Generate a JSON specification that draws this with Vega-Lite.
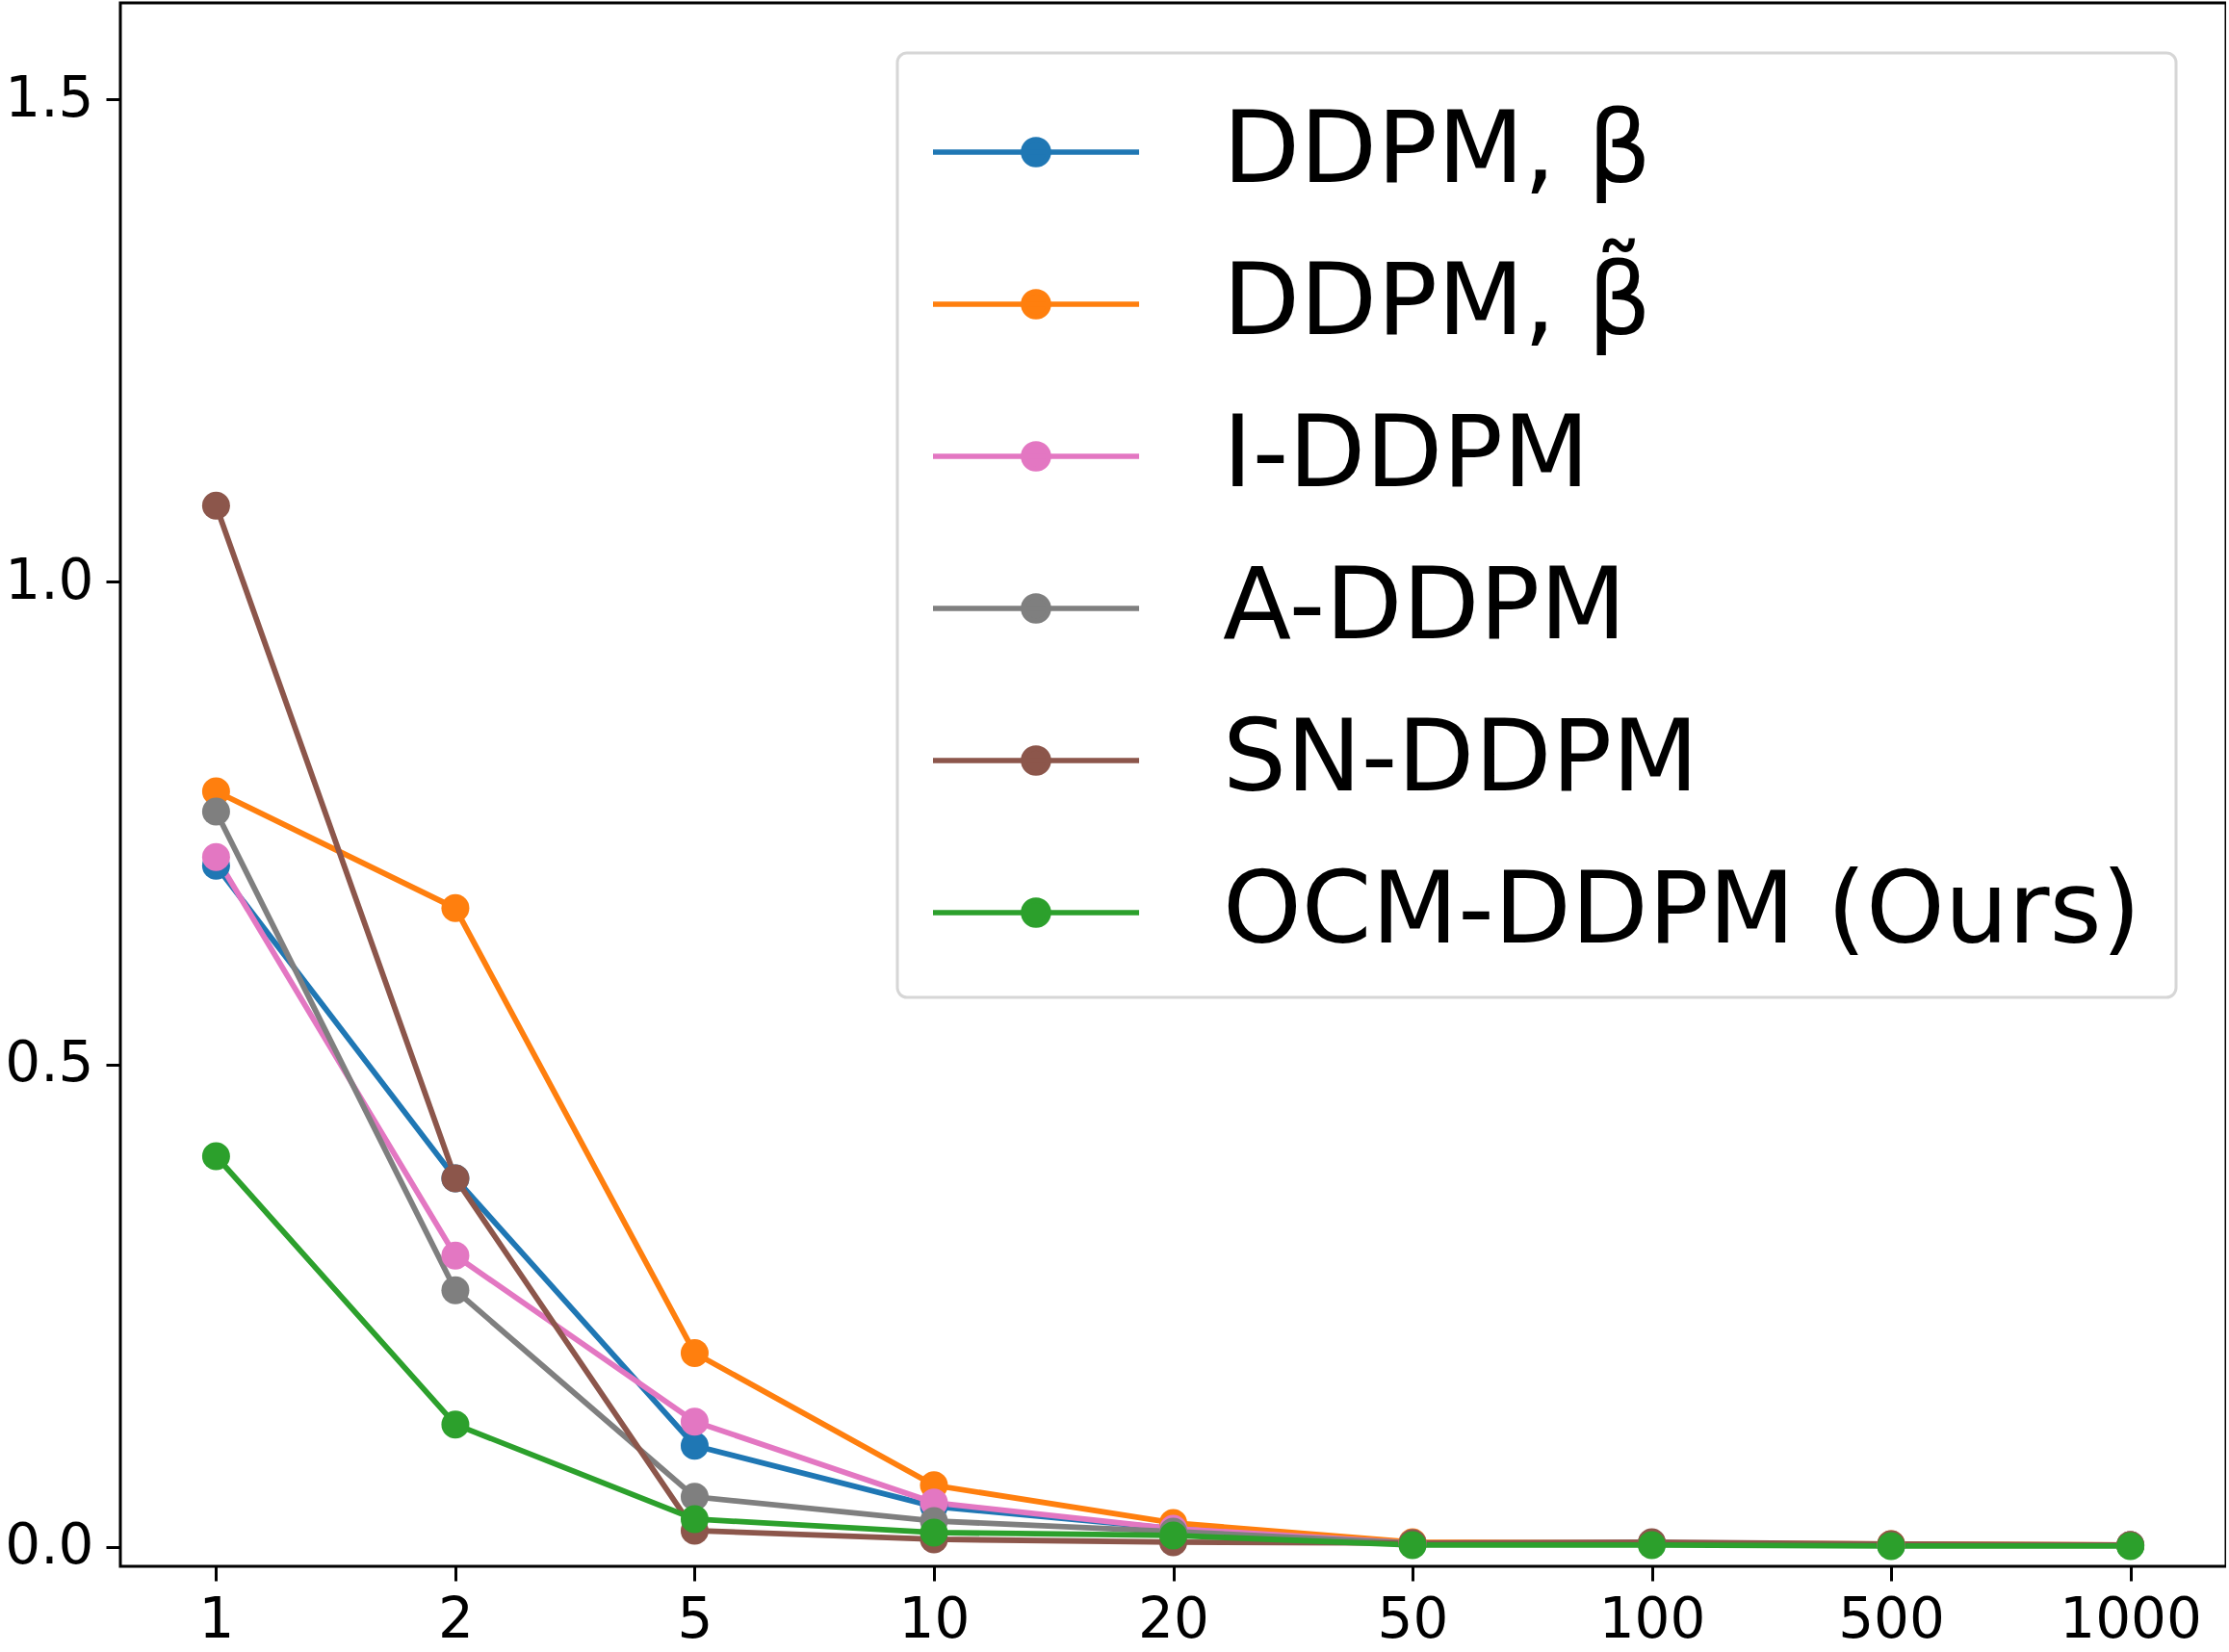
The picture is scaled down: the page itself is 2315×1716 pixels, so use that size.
{
  "$schema": "https://vega.github.io/schema/vega-lite/v6.json",
  "width": 2187,
  "height": 1624,
  "autosize": {"type": "none"},
  "padding": {"left": 125, "top": 3, "right": 0, "bottom": 89},
  "background": "white",
  "config": {
    "view": {"stroke": "black", "strokeWidth": 3},
    "axis": {
      "domain": false,
      "grid": false,
      "ticks": true,
      "tickColor": "black",
      "tickWidth": 3,
      "tickSize": 15,
      "labelFont": "DejaVu Sans",
      "labelFontSize": 58,
      "labelColor": "black",
      "title": null
    },
    "legend": {
      "orient": "top-right",
      "offset": 52,
      "padding": 36,
      "cornerRadius": 10,
      "strokeColor": "#d6d6d6",
      "strokeWidth": 3,
      "fillColor": "white",
      "labelFont": "DejaVu Sans",
      "labelFontSize": 104,
      "labelColor": "black",
      "labelLimit": 3000,
      "labelOffset": 198,
      "rowPadding": 54,
      "symbolType": "M-3.4,0L10.87,0M4.6,0A0.87,0.87,0,1,1,2.86,0A0.87,0.87,0,1,1,4.6,0Z",
      "symbolSize": 900,
      "symbolStrokeWidth": 5.5,
      "titleFontSize": 10,
      "titlePadding": 5
    }
  },
  "data": {
    "values": [
      {"method": "DDPM, β", "steps": "1", "v": 0.706},
      {"method": "DDPM, β", "steps": "2", "v": 0.382},
      {"method": "DDPM, β", "steps": "5", "v": 0.105},
      {"method": "DDPM, β", "steps": "10", "v": 0.042},
      {"method": "DDPM, β", "steps": "20", "v": 0.019},
      {"method": "DDPM, β", "steps": "50", "v": 0.004},
      {"method": "DDPM, β", "steps": "100", "v": 0.004},
      {"method": "DDPM, β", "steps": "500", "v": 0.002},
      {"method": "DDPM, β", "steps": "1000", "v": 0.002},
      {"method": "DDPM, β̃", "steps": "1", "v": 0.783},
      {"method": "DDPM, β̃", "steps": "2", "v": 0.662},
      {"method": "DDPM, β̃", "steps": "5", "v": 0.201},
      {"method": "DDPM, β̃", "steps": "10", "v": 0.064},
      {"method": "DDPM, β̃", "steps": "20", "v": 0.025},
      {"method": "DDPM, β̃", "steps": "50", "v": 0.005},
      {"method": "DDPM, β̃", "steps": "100", "v": 0.004},
      {"method": "DDPM, β̃", "steps": "500", "v": 0.003},
      {"method": "DDPM, β̃", "steps": "1000", "v": 0.002},
      {"method": "I-DDPM", "steps": "1", "v": 0.715},
      {"method": "I-DDPM", "steps": "2", "v": 0.302},
      {"method": "I-DDPM", "steps": "5", "v": 0.130},
      {"method": "I-DDPM", "steps": "10", "v": 0.046},
      {"method": "I-DDPM", "steps": "20", "v": 0.019},
      {"method": "I-DDPM", "steps": "50", "v": 0.004},
      {"method": "I-DDPM", "steps": "100", "v": 0.004},
      {"method": "I-DDPM", "steps": "500", "v": 0.002},
      {"method": "I-DDPM", "steps": "1000", "v": 0.002},
      {"method": "A-DDPM", "steps": "1", "v": 0.762},
      {"method": "A-DDPM", "steps": "2", "v": 0.266},
      {"method": "A-DDPM", "steps": "5", "v": 0.052},
      {"method": "A-DDPM", "steps": "10", "v": 0.027},
      {"method": "A-DDPM", "steps": "20", "v": 0.016},
      {"method": "A-DDPM", "steps": "50", "v": 0.004},
      {"method": "A-DDPM", "steps": "100", "v": 0.004},
      {"method": "A-DDPM", "steps": "500", "v": 0.002},
      {"method": "A-DDPM", "steps": "1000", "v": 0.002},
      {"method": "SN-DDPM", "steps": "1", "v": 1.079},
      {"method": "SN-DDPM", "steps": "2", "v": 0.382},
      {"method": "SN-DDPM", "steps": "5", "v": 0.017},
      {"method": "SN-DDPM", "steps": "10", "v": 0.008},
      {"method": "SN-DDPM", "steps": "20", "v": 0.005},
      {"method": "SN-DDPM", "steps": "50", "v": 0.004},
      {"method": "SN-DDPM", "steps": "100", "v": 0.005},
      {"method": "SN-DDPM", "steps": "500", "v": 0.003},
      {"method": "SN-DDPM", "steps": "1000", "v": 0.002},
      {"method": "OCM-DDPM (Ours)", "steps": "1", "v": 0.405},
      {"method": "OCM-DDPM (Ours)", "steps": "2", "v": 0.127},
      {"method": "OCM-DDPM (Ours)", "steps": "5", "v": 0.029},
      {"method": "OCM-DDPM (Ours)", "steps": "10", "v": 0.015},
      {"method": "OCM-DDPM (Ours)", "steps": "20", "v": 0.012},
      {"method": "OCM-DDPM (Ours)", "steps": "50", "v": 0.002},
      {"method": "OCM-DDPM (Ours)", "steps": "100", "v": 0.002},
      {"method": "OCM-DDPM (Ours)", "steps": "500", "v": 0.001},
      {"method": "OCM-DDPM (Ours)", "steps": "1000", "v": 0.001}
    ]
  },
  "encoding": {
    "x": {
      "field": "steps",
      "type": "ordinal",
      "sort": ["1", "2", "5", "10", "20", "50", "100", "500", "1000"],
      "scale": {"type": "point", "padding": 0.4},
      "axis": {"labelAngle": 0, "labelPadding": 12}
    },
    "y": {
      "field": "v",
      "type": "quantitative",
      "scale": {"domain": [-0.02, 1.6], "nice": false, "zero": false},
      "axis": {"values": [0, 0.5, 1, 1.5], "format": ".1f", "labelPadding": 13}
    },
    "color": {
      "field": "method",
      "type": "nominal",
      "sort": ["DDPM, β", "DDPM, β̃", "I-DDPM", "A-DDPM", "SN-DDPM", "OCM-DDPM (Ours)"],
      "scale": {
        "domain": ["DDPM, β", "DDPM, β̃", "I-DDPM", "A-DDPM", "SN-DDPM", "OCM-DDPM (Ours)"],
        "range": ["#1f77b4", "#ff7f0e", "#e377c2", "#7f7f7f", "#8c564b", "#2ca02c"]
      },
      "legend": {
        "title": " ",
        "encode": {
          "symbols": {
            "update": {
              "fill": {"scale": "color", "field": "value"},
              "stroke": {"scale": "color", "field": "value"},
              "opacity": {"value": 1}
            }
          }
        }
      }
    }
  },
  "layer": [
    {"mark": {"type": "line", "strokeWidth": 5.8}},
    {"mark": {"type": "point", "filled": true, "size": 841, "opacity": 1, "shape": "circle"}}
  ]
}
